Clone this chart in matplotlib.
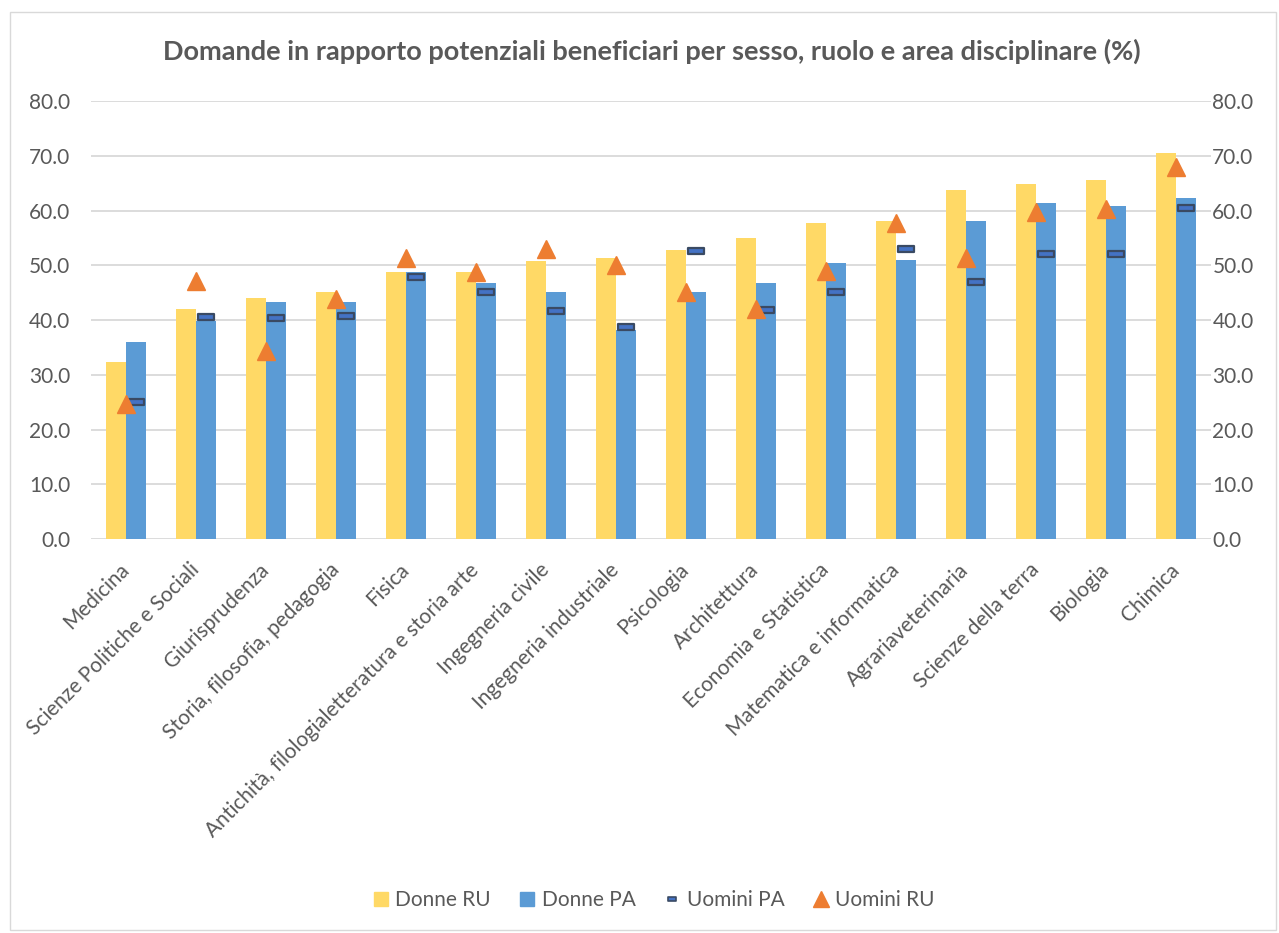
import numpy as np
import matplotlib
matplotlib.use("Agg")
import matplotlib.pyplot as plt
from matplotlib.path import Path
from matplotlib.patches import Rectangle
from matplotlib.lines import Line2D

plt.rcParams['font.family'] = ['Lato', 'DejaVu Sans']

# data
categories = ['Medicina', 'Scienze Politiche e Sociali', 'Giurisprudenza',
              'Storia, filosofia, pedagogia', 'Fisica',
              'Antichità, filologialetteratura e storia arte', 'Ingegneria civile',
              'Ingegneria industriale', 'Psicologia', 'Architettura',
              'Economia e Statistica', 'Matematica e informatica',
              'Agrariaveterinaria', 'Scienze della terra', 'Biologia', 'Chimica']
donne_ru = [32.3, 42.0, 44.1, 45.1, 48.7, 48.8, 50.8, 51.3, 52.8, 55.0, 57.7, 58.0, 63.7, 64.8, 65.6, 70.6]
donne_pa = [36.0, 39.8, 43.3, 43.3, 48.7, 46.8, 45.2, 38.1, 45.2, 46.7, 50.4, 51.0, 58.0, 61.3, 60.8, 62.3]
uomini_pa = [25.1, 40.5, 40.3, 40.7, 47.9, 45.1, 41.7, 38.8, 52.6, 41.8, 45.1, 53.0, 46.9, 52.1, 52.1, 60.4]
uomini_ru = [24.7, 47.1, 34.4, 43.8, 51.3, 48.7, 52.9, 50.0, 45.2, 42.0, 49.0, 57.8, 51.4, 59.7, 60.3, 67.9]

yellow = '#FFD966'
blue = '#5B9BD5'
orange = '#ED7D31'
dash_fill = '#4472C4'
dash_edge = '#3A4A63'
txt = '#595959'

fig = plt.figure(figsize=(12.79, 9.33), dpi=100)
ax = fig.add_axes([0.0711, 0.4223, 0.8757, 0.4694])

x = np.arange(len(categories))
w = 0.285
ax.bar(x - w / 2, donne_ru, w, color=yellow, zorder=2)
ax.bar(x + w / 2, donne_pa, w, color=blue, zorder=2)

dash = Path([(-1, -0.42), (1, -0.42), (1, 0.42), (-1, 0.42), (-1, -0.42)],
            [Path.MOVETO, Path.LINETO, Path.LINETO, Path.LINETO, Path.CLOSEPOLY])
ax.plot(x + w / 2, uomini_pa, linestyle='none', marker=dash, markersize=11,
        markerfacecolor=dash_fill, markeredgecolor=dash_edge, markeredgewidth=1.6,
        zorder=3)
ax.plot(x, uomini_ru, linestyle='none', marker='^', markersize=13,
        color=orange, zorder=4)

ax.set_xlim(-0.5, len(categories) - 0.5)
ax.set_ylim(0, 80)
ticks = np.arange(0, 81, 10)
ax.set_yticks(ticks)
ax.set_yticklabels([f'{t:.1f}' for t in ticks])
ax.grid(axis='y', color='#D9D9D9', linewidth=1.3, zorder=0)
ax.set_axisbelow(True)
for s in ax.spines.values():
    s.set_visible(False)
ax.tick_params(axis='both', length=0, labelsize=15, colors=txt)
ax.tick_params(axis='y', pad=15)
ax.set_xticks(x)
ax.set_xticklabels(categories, rotation=45, ha='right', va='center', rotation_mode='anchor')
ax.tick_params(axis='x', pad=20)

ax2 = ax.twinx()
ax2.set_ylim(0, 80)
ax2.set_yticks(ticks)
ax2.set_yticklabels([f'{t:.1f}' for t in ticks])
for s in ax2.spines.values():
    s.set_visible(False)
ax2.tick_params(axis='y', length=0, labelsize=15, colors=txt, pad=1)

fig.text(0.51, 0.945, 'Domande in rapporto potenziali beneficiari per sesso, ruolo e area disciplinare (%)',
         ha='center', va='center', fontsize=19.5, fontweight='bold', color=txt)

handles = [
    Line2D([], [], linestyle='none', marker='s', markersize=10, color=yellow),
    Line2D([], [], linestyle='none', marker='s', markersize=10, color=blue),
    Line2D([], [], linestyle='none', marker=dash, markersize=6, markerfacecolor=dash_fill,
           markeredgecolor=dash_edge, markeredgewidth=1.2),
    Line2D([], [], linestyle='none', marker='^', markersize=11, color=orange),
]
labels = ['Donne RU', 'Donne PA', 'Uomini PA', 'Uomini RU']
fig.legend(handles, labels, loc='center', bbox_to_anchor=(0.511, 0.035), ncol=4, frameon=False,
           fontsize=15, labelcolor=txt, handlelength=0.8, handletextpad=0.3,
           columnspacing=1.35)

fig.patches.append(Rectangle((0.008, 0.003), 0.99, 0.984, transform=fig.transFigure,
                             fill=False, edgecolor='#D9D9D9', linewidth=1))

fig.savefig('out.png', dpi=100)
